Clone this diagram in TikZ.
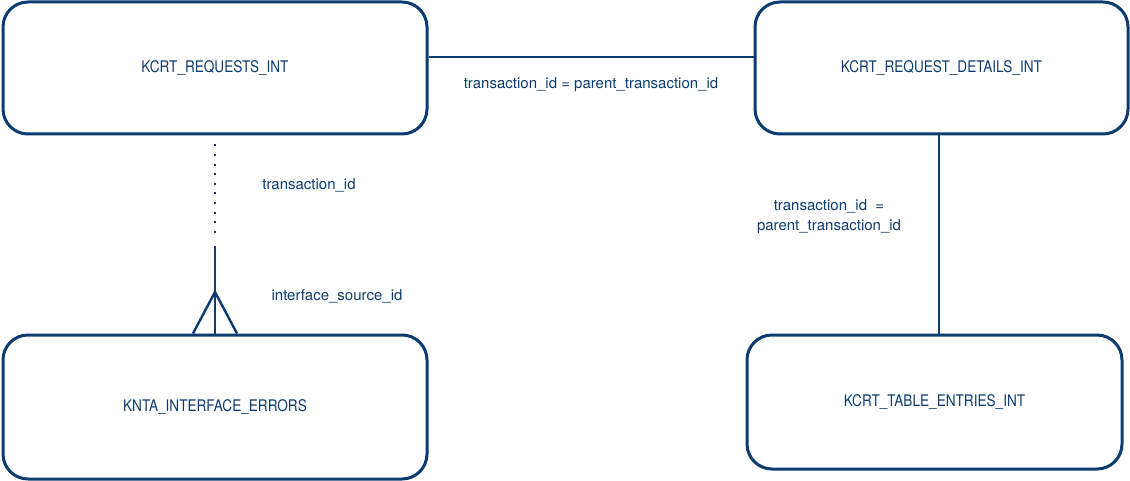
\documentclass[tikz,border=0pt]{standalone}
\usepackage{fontspec}
\setmainfont{TeX Gyre Heros}
\newfontfamily\entityfont[FakeStretch=0.85]{TeX Gyre Heros}
\definecolor{erdblue}{HTML}{0B3B6F}
\begin{document}
\begin{tikzpicture}[x=1pt,y=1pt]

	% Styles
	\tikzstyle{entity} = [draw=erdblue,line width=3pt,rounded corners=25pt,minimum height=132pt,text=erdblue,font=\entityfont\fontsize{16}{19}\selectfont]
	\tikzstyle{joinlabel} = [text=erdblue,font=\fontsize{15}{20}\selectfont,align=center]
	\tikzstyle{relline} = [draw=erdblue,line width=2.4pt]

	\useasboundingbox (0,0) rectangle (1130,480);

	% Tabellen
	\node at (215,412) [entity,minimum width=424pt] (requests) {KCRT\_REQUESTS\_INT};
	\node at (941.5,412) [entity,minimum width=373pt] (details) {KCRT\_REQUEST\_DETAILS\_INT};
	\node at (215,73) [entity,minimum width=424pt,minimum height=144pt] (errors) {KNTA\_INTERFACE\_ERRORS};
	\node at (934.5,78) [entity,minimum width=375pt,minimum height=134pt] (entries) {KCRT\_TABLE\_ENTRIES\_INT};

	% Beziehungen
	\draw[relline] ([yshift=11pt]requests.east) -- ([yshift=11pt]details.west);
	\draw[relline] ([xshift=-2.5pt]details.south) -- ([xshift=4.5pt]entries.north);

	% Beziehung mit Kraehenfuss
	\coordinate (dotend) at (215,240);
	\coordinate (solid) at (215,234);
	\coordinate (crow) at (215,188);
	\draw[relline,dash pattern=on 2pt off 7.6pt] ([yshift=-9pt]requests.south) -- (dotend);
	\draw[relline] (solid) -- (errors.north);
	\draw[relline] ([xshift=-22pt]errors.north) -- (crow) -- ([xshift=22pt]errors.north);

	% Labels
	\node at (591,395) [joinlabel] (abl) {transaction\_id = parent\_transaction\_id};
	\node at (309,295) [joinlabel] (acl1) {transaction\_id};
	\node at (337,184) [joinlabel] (acl2) {interface\_source\_id};
	\node at (829,263) [joinlabel] (bdl) {transaction\_id\ \ =\\parent\_transaction\_id};

\end{tikzpicture}
\end{document}
